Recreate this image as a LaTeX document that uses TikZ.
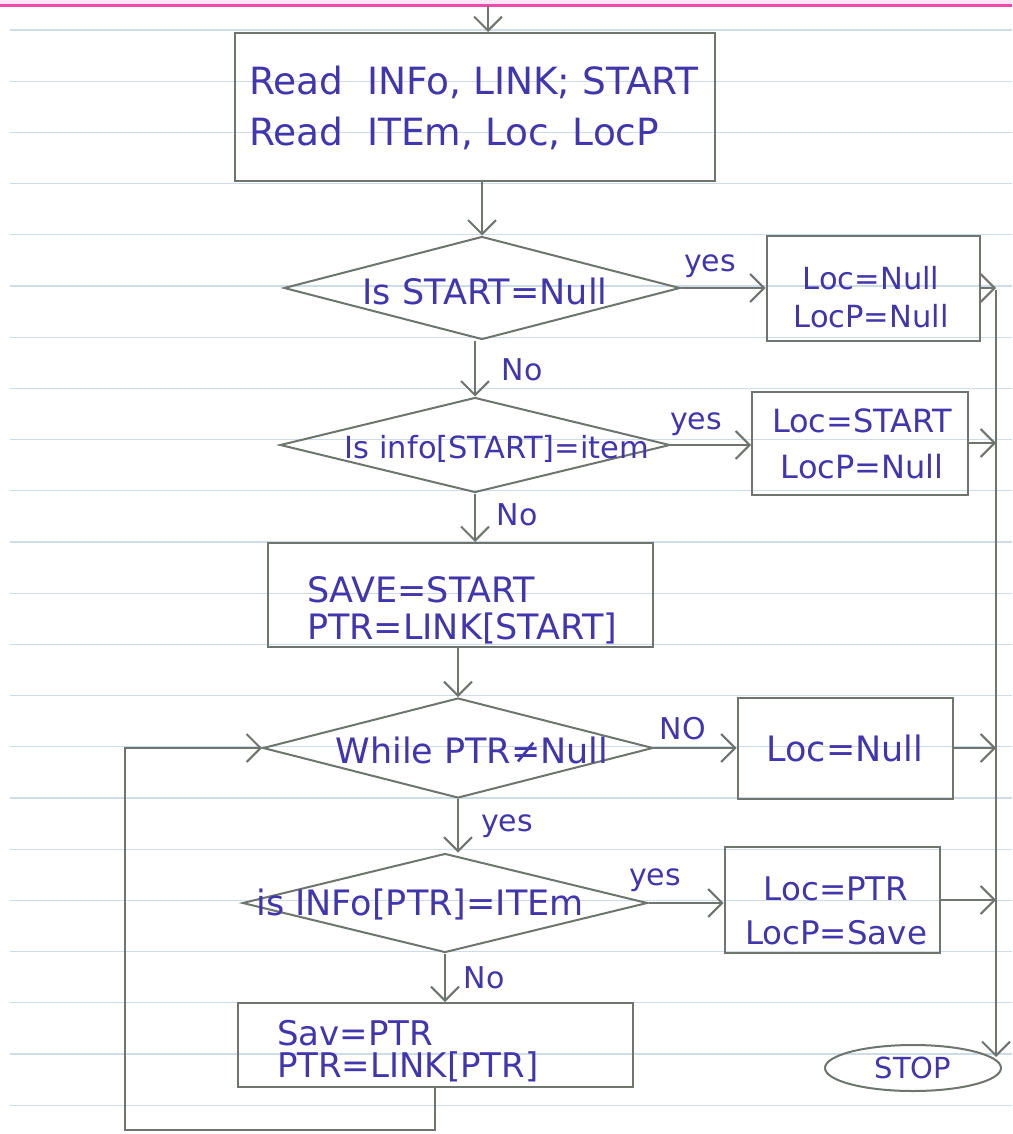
\documentclass[tikz,border=0pt]{standalone}
\usepackage{fontspec}
\setmainfont{DejaVu Sans}
\usetikzlibrary{arrows.meta,shapes.geometric,calc}

\definecolor{ink}{RGB}{66,54,172}
\definecolor{pencil}{RGB}{110,116,110}
\definecolor{ruling}{RGB}{204,220,232}
\definecolor{marginline}{RGB}{240,72,172}
\definecolor{marginfill}{RGB}{253,230,245}

\newcommand\handfont[1]{\fontsize{#1}{#1}\selectfont}

\begin{document}
\begin{tikzpicture}[x=1pt,y=-1pt,line width=2pt,
  flow/.style={draw=pencil,-{Straight Barb[length=14pt,width=28pt,line width=2pt]}},
  procbox/.style={draw=pencil,rectangle,inner sep=0pt},
  boxtext/.style={text=ink,inner sep=0pt,align=center},
  lefttext/.style={text=ink,inner sep=0pt,align=left,anchor=west},
  decision/.style={draw=pencil,diamond,inner sep=0pt},
  dtext/.style={text=ink,inner sep=0pt},
  tag/.style={text=ink,inner sep=0pt,font=\handfont{30}},
  terminal/.style={draw=pencil,ellipse,text=ink,inner sep=0pt,font=\handfont{29}}]

% paper
\useasboundingbox (0,0) rectangle (1012,1134);
\fill[white] (0,0) rectangle (1012,1134);
\fill[marginfill] (0,0) rectangle (1012,5);
\draw[marginline,line width=3pt] (0,6) -- (1012,6);
\foreach \k in {0,...,21}
  \draw[ruling,line width=1.2pt] (10,30+51.2*\k) -- (1012,30+51.2*\k);

% process boxes and their texts
\node[procbox,minimum width=480pt,minimum height=148pt] (read) at (475,107) {};
\node[lefttext,font=\fontsize{37.5}{51}\selectfont] (readt) at (248,108)
  {Read\ \ INFo, LINK; START\\Read\ \ ITEm, Loc, LocP};

\node[procbox,minimum width=213pt,minimum height=105pt] (nullcase) at (873,288) {};
\node[boxtext,font=\fontsize{30.5}{38}\selectfont] (nullt) at (871,297) {Loc=Null\\LocP=Null};

\node[procbox,minimum width=216pt,minimum height=103pt] (firstcase) at (860,443) {};
\node[boxtext,font=\fontsize{32}{46}\selectfont] (firstt) at (862,444) {Loc=START\\LocP=Null};

\node[procbox,minimum width=385pt,minimum height=104pt] (init) at (460,595) {};
\node[lefttext,font=\fontsize{35}{37}\selectfont] (initt) at (306,610) {SAVE=START\\PTR=LINK[START]};

\node[procbox,minimum width=215pt,minimum height=101pt] (notfound) at (845,748) {};
\node[boxtext,font=\handfont{35}] (notfoundt) at (845,748) {Loc=Null};

\node[procbox,minimum width=395pt,minimum height=84pt] (advance) at (435,1045) {};
\node[lefttext,font=\fontsize{34}{32}\selectfont] (advancet) at (276,1051) {Sav=PTR\\PTR=LINK[PTR]};

\node[procbox,minimum width=215pt,minimum height=106pt] (found) at (832,900) {};
\node[boxtext,font=\fontsize{32.5}{44}\selectfont] (foundt) at (836,911) {Loc=PTR\\LocP=Save};

\node[terminal,minimum width=176pt,minimum height=46pt] (stop) at (913,1068) {STOP};

% decisions
\node[decision,minimum width=396pt,minimum height=103pt] (d1) at (482,288) {};
\node[dtext,font=\handfont{35}] (d1t) at (485,291) {Is START=Null};
\node[decision,minimum width=390pt,minimum height=95pt] (d2) at (475,445) {};
\node[dtext,font=\handfont{30.5}] (d2t) at (497,449) {Is info[START]=item};
\node[decision,minimum width=390pt,minimum height=100pt] (d3) at (458,748) {};
\node[dtext,font=\handfont{35}] (d3t) at (472,750) {While PTR≠Null};
\node[decision,minimum width=405pt,minimum height=99pt] (d4) at (445,903) {};
\node[dtext,font=\handfont{35}] (d4t) at (420,905) {is INFo[PTR]=ITEm};

% branch labels
\node[tag] (y1) at (710,266) {yes};
\node[tag] (n1) at (522,370) {No};
\node[tag] (y2) at (696,424) {yes};
\node[tag] (n2) at (517,515) {No};
\node[tag] (n3) at (683,729) {NO};
\node[tag] (y3) at (507,826) {yes};
\node[tag] (y4) at (655,880) {yes};
\node[tag] (n4) at (484,978) {No};

% connectors
\coordinate (entry) at (488,6);
\draw[flow] (entry) -- (entry |- read.north);
\draw[flow] (d1.north |- read.south) -- (d1.north);
\draw[flow] (d2.north |- d1.south) -- (d2.north);
\draw[flow] (d2.south) -- (d2.south |- init.north);
\draw[flow] (d3.north |- init.south) -- (d3.north);
\draw[flow] (d3.south) -- (d3.south |- d4.north);
\draw[flow] (d4.south) -- (d4.south |- advance.north);

\draw[flow] (d1.east) -- (d1.east -| nullcase.west);
\draw[flow] (d2.east) -- (d2.east -| firstcase.west);
\draw[flow] (d3.east) -- (d3.east -| notfound.west);
\draw[flow] (d4.east) -- (d4.east -| found.west);

% collecting line on the right, down to STOP
\coordinate (bustop) at (996,290);
\coordinate (busend) at (996,1057);
\draw[flow] (bustop) -- (busend);
\draw[flow] (nullcase.east) -- (nullcase.east -| bustop);
\draw[flow] (firstcase.east) -- (firstcase.east -| bustop);
\draw[flow] (notfound.east) -- (notfound.east -| bustop);
\draw[flow] (found.east) -- (found.east -| bustop);

% loop back to the while test
\coordinate (loopcorner) at (125,1130);
\draw[flow] (advance.south) |- (loopcorner) |- (d3.west);
\end{tikzpicture}
\end{document}
